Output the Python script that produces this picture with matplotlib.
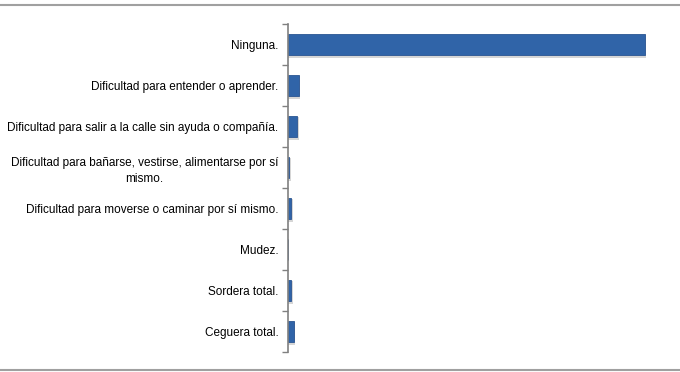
import matplotlib.pyplot as plt
from matplotlib.lines import Line2D

# categories, top to bottom
categorias = [
    "Ninguna.",
    "Dificultad para entender o aprender.",
    "Dificultad para salir a la calle sin ayuda o compañía.",
    "Dificultad para bañarse, vestirse, alimentarse por sí\nmismo.",
    "Dificultad para moverse o caminar por sí mismo.",
    "Mudez.",
    "Sordera total.",
    "Ceguera total.",
]
# percentages
porcentajes = [91.5, 2.8, 2.3, 0.3, 0.8, 0.0, 0.8, 1.5]

plt.rcParams['font.family'] = ['Liberation Sans', 'DejaVu Sans']

fig = plt.figure(figsize=(6.8, 3.72), dpi=100)
ax = fig.add_axes((288 / 680, 1 - 352 / 372, (670 - 288) / 680, (352 - 24) / 372))

pos = list(range(len(categorias)))
# soft shadow behind each bar
ax.barh([p + 0.04 for p in pos], [v + 0.4 if v > 0 else 0 for v in porcentajes],
        height=0.56, left=0, color='#d6d6d6', zorder=1)
ax.barh(pos, porcentajes, height=0.52, color='#3064a8', edgecolor='#2a5592',
        linewidth=0.6, zorder=2)

ax.set_ylim(len(categorias) - 0.5, -0.5)
ax.set_xlim(0, 98)

ax.set_yticks([p + 0.5 for p in range(-1, len(categorias))], minor=False)
ax.set_yticklabels([])
ax.set_yticks(pos, minor=True)
ax.set_yticklabels(categorias, minor=True, fontsize=8.5, linespacing=1.45)
ax.tick_params(axis='y', which='minor', length=0, pad=7)
ax.tick_params(axis='y', which='major', length=4, width=1, color='#808080')
for lab in ax.get_yticklabels(minor=True):
    lab.set_multialignment('center')

ax.set_xticks([])
for s in ['top', 'right', 'bottom']:
    ax.spines[s].set_visible(False)
ax.spines['left'].set_color('#808080')
ax.spines['left'].set_linewidth(1.2)

# chart border lines top and bottom
fig.add_artist(Line2D([0, 1], [1 - 5 / 372, 1 - 5 / 372], color='#a0a0a0', lw=1.5))
fig.add_artist(Line2D([0, 1], [1 - 370 / 372, 1 - 370 / 372], color='#a0a0a0', lw=1.5))

fig.savefig('out.png', dpi=100)
